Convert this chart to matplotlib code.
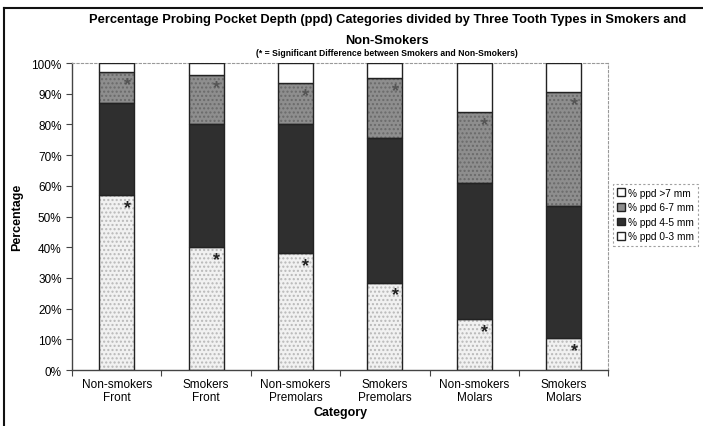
import matplotlib
matplotlib.use("Agg")
import matplotlib.pyplot as plt
from matplotlib.patches import Patch
import numpy as np

plt.rcParams['font.family'] = ['Liberation Sans', 'DejaVu Sans']

categories = ["Non-smokers\nFront", "Smokers\nFront", "Non-smokers\nPremolars",
              "Smokers\nPremolars", "Non-smokers\nMolars", "Smokers\nMolars"]
ppd_0_3 = [57.0, 40.0, 38.0, 28.5, 16.5, 10.5]
ppd_4_5 = [30.0, 40.0, 42.0, 47.0, 44.5, 43.0]
ppd_6_7 = [10.0, 16.0, 13.5, 19.5, 23.0, 37.0]
ppd_gt7 = [3.0, 4.0, 6.5, 5.0, 16.0, 9.5]
sig_0_3 = [True] * 6
sig_6_7 = [True] * 6
yticks = list(range(0, 101, 10))

fig = plt.figure(figsize=(7.03, 4.27), dpi=100)
ax = fig.add_axes([0.1024, 0.131, 0.763, 0.719])

x = np.arange(len(categories))
w = 0.39
series = [
    (ppd_0_3, "#f1f1f1", "#b8b8b8", "% ppd 0-3 mm"),
    (ppd_4_5, "#2f2f2f", None, "% ppd 4-5 mm"),
    (ppd_6_7, "#8e8e8e", "#6a6a6a", "% ppd 6-7 mm"),
    (ppd_gt7, "#ffffff", None, "% ppd >7 mm"),
]
bottom = np.zeros(len(categories))
tops = []
for vals, fc, hc, lab in series:
    vals = np.array(vals)
    if hc is not None:
        ax.bar(x, vals, w, bottom=bottom, color=fc, edgecolor=hc, linewidth=0,
               hatch='....', zorder=2)
    ax.bar(x, vals, w, bottom=bottom, facecolor=fc if hc is None else 'none',
           edgecolor='#222222', linewidth=1.0, zorder=3, label=lab)
    bottom = bottom + vals
    tops.append(bottom.copy())

# significance markers
for i in range(len(categories)):
    if sig_0_3[i]:
        ax.text(x[i] + w * 0.3, tops[0][i] - 1.3, "*", ha='center', va='top',
                fontsize=13, fontweight='bold', color='#222222', zorder=4)
    if sig_6_7[i]:
        ax.text(x[i] + w * 0.3, tops[2][i] - 1.3, "*", ha='center', va='top',
                fontsize=13, fontweight='bold', color='#555555', zorder=4)

ax.set_xlim(-0.5, len(categories) - 0.5)
ax.set_ylim(0, 100)
ax.set_yticks(yticks)
ax.set_yticklabels([f"{t}%" for t in yticks], fontsize=8.5)
ax.set_xticks(np.arange(len(categories) + 1) - 0.5)
ax.set_xticklabels([])
ax.set_xticks(x, minor=True)
ax.set_xticklabels(categories, minor=True, fontsize=8.5, linespacing=1.05)
ax.tick_params(axis='x', which='minor', length=0, pad=6)
ax.tick_params(axis='x', which='major', length=4, direction='out', color='#444444')
ax.tick_params(axis='y', length=4, direction='out', color='#444444')

for s in ['top', 'right']:
    ax.spines[s].set_linestyle((0, (2, 2)))
    ax.spines[s].set_color('#999999')
    ax.spines[s].set_linewidth(0.8)
for s in ['left', 'bottom']:
    ax.spines[s].set_color('#444444')
    ax.spines[s].set_linewidth(1.0)

ax.set_ylabel("Percentage", fontsize=9, fontweight='bold', labelpad=6)
ax.set_xlabel("Category", fontsize=9, fontweight='bold', labelpad=2)

fig.text(0.551, 0.953, "Percentage Probing Pocket Depth (ppd) Categories divided by Three Tooth Types in Smokers and",
         ha='center', va='center', fontsize=9.3, fontweight='bold')
fig.text(0.551, 0.905, "Non-Smokers", ha='center', va='center', fontsize=9.3, fontweight='bold')
fig.text(0.551, 0.875, "(* = Significant Difference between Smokers and Non-Smokers)",
         ha='center', va='center', fontsize=6.2, fontweight='bold')

# legend, listed top-down from the highest stack segment
leg_items = [
    Patch(facecolor="#ffffff", edgecolor='#222222', label="% ppd >7 mm"),
    Patch(facecolor="#8e8e8e", edgecolor='#222222', label="% ppd 6-7 mm"),
    Patch(facecolor="#2f2f2f", edgecolor='#222222', label="% ppd 4-5 mm"),
    Patch(facecolor="#ffffff", edgecolor='#222222', label="% ppd 0-3 mm"),
]
leg = fig.legend(handles=leg_items, loc='center left', bbox_to_anchor=(0.872, 0.495),
                 fontsize=7.3, frameon=True, fancybox=False, handlelength=0.8,
                 handleheight=0.8, handletextpad=0.3, borderpad=0.4, labelspacing=0.45,
                 borderaxespad=0)
leg.get_frame().set_edgecolor('#888888')
leg.get_frame().set_linestyle((0, (2, 2)))
leg.get_frame().set_linewidth(0.8)

# outer frame
fig.add_artist(plt.Line2D([0.006, 0.006], [0.0, 0.978], transform=fig.transFigure,
                          color='#111111', linewidth=1.5))
fig.add_artist(plt.Line2D([0.006, 0.998], [0.978, 0.978], transform=fig.transFigure,
                          color='#111111', linewidth=1.5))

fig.savefig("out.png", dpi=100)
